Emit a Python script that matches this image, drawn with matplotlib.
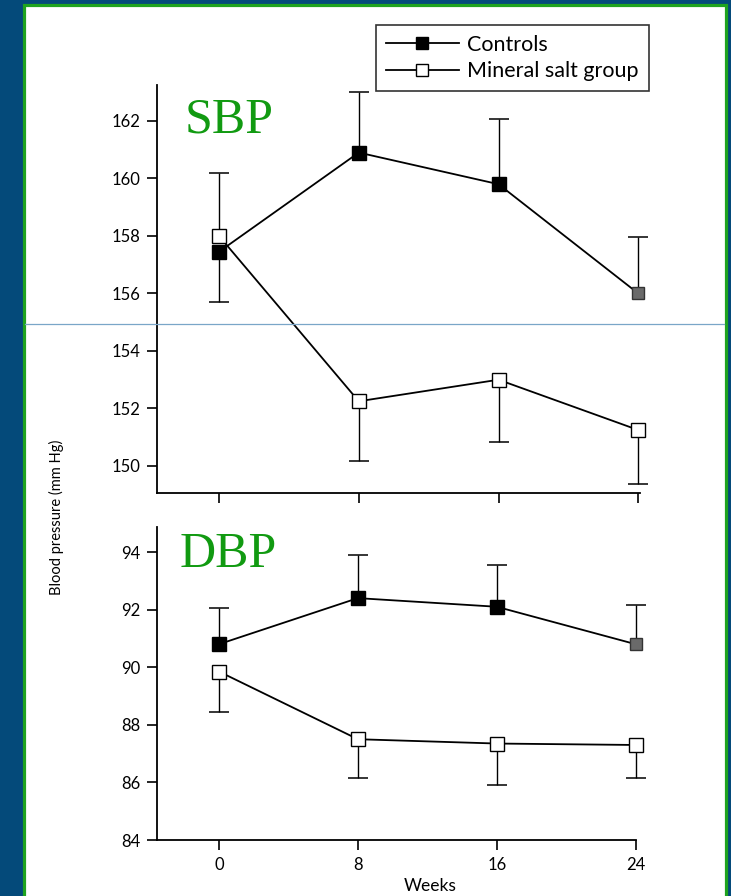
import matplotlib
matplotlib.use("Agg")
import matplotlib.pyplot as plt
from matplotlib.patches import Rectangle
from matplotlib.lines import Line2D
import numpy as np

# ── DATA ─────────────────────────────────────────────────────────────────────
weeks = [0, 8, 16, 24]

sbp_ctrl = [157.45, 160.9, 159.8, 156.0]
sbp_ctrl_lo = [1.75, 0, 0, 0]
sbp_ctrl_hi = [0, 2.12, 2.27, 1.97]
sbp_min = [158.0, 152.25, 153.0, 151.25]
sbp_min_lo = [0, 2.08, 2.15, 1.88]
sbp_min_hi = [2.2, 0, 0, 0]

dbp_ctrl = [90.8, 92.4, 92.1, 90.8]
dbp_ctrl_lo = [0, 0, 0, 0]
dbp_ctrl_hi = [1.25, 1.5, 1.45, 1.35]
dbp_min = [89.85, 87.5, 87.35, 87.3]
dbp_min_lo = [1.4, 1.35, 1.45, 1.15]
dbp_min_hi = [0, 0, 0, 0]

sbp_ticks = [150, 152, 154, 156, 158, 160, 162]
dbp_ticks = [84, 86, 88, 90, 92, 94]

# ── STYLE ────────────────────────────────────────────────────────────────────
W, H = 731, 896
BG = "#044a7a"
GREEN_EDGE = "#1fa31f"
GREEN_TXT = "#119a11"
plt.rcParams["font.family"] = ["Lato", "DejaVu Sans"]


def px_axes(fig, left, right, top, bottom):
    return fig.add_axes([left / W, 1 - bottom / H, (right - left) / W, (bottom - top) / H])


def draw_errs(ax, x, y, lo, hi):
    """One-sided error bars: only the side with a non-zero error is drawn."""
    x, y, lo, hi = map(np.asarray, (x, y, lo, hi))
    for mask, end in ((hi > 0, y + hi), (lo > 0, y - lo)):
        if mask.any():
            ax.vlines(x[mask], y[mask], end[mask], color="black", lw=1.0,
                      zorder=2, clip_on=False)
            ax.plot(x[mask], end[mask], ls="none", marker="_", ms=15, mew=1.1,
                    color="black", zorder=2, clip_on=False)


def draw_series(ax, y_ctrl, c_lo, c_hi, y_min, m_lo, m_hi):
    draw_errs(ax, weeks, y_ctrl, c_lo, c_hi)
    draw_errs(ax, weeks, y_min, m_lo, m_hi)
    ax.plot(weeks, y_ctrl, color="black", lw=1.3, zorder=3, clip_on=False)
    ax.plot(weeks, y_min, color="black", lw=1.3, zorder=3, clip_on=False)
    ax.plot(weeks[:-1], y_ctrl[:-1], ls="none", marker="s", ms=10,
            mfc="black", mec="black", zorder=4, clip_on=False)
    ax.plot(weeks[-1:], y_ctrl[-1:], ls="none", marker="s", ms=9,
            mfc="#6a6a6a", mec="#333333", zorder=4, clip_on=False)
    ax.plot(weeks, y_min, ls="none", marker="s", ms=10,
            mfc="white", mec="black", mew=1.0, zorder=4, clip_on=False)


def style_axes(ax, yticks):
    for s in ("top", "right"):
        ax.spines[s].set_visible(False)
    for s in ("left", "bottom"):
        ax.spines[s].set_linewidth(1.3)
    ax.set_yticks(yticks)
    ax.set_xticks(weeks)
    ax.tick_params(direction="out", length=7, width=1.2, labelsize=12, pad=5)
    ax.patch.set_alpha(0)


fig = plt.figure(figsize=(W / 100, H / 100), dpi=100)
fig.patch.set_facecolor(BG)

# white panel with green frame
fig.add_artist(Rectangle((23.5 / W, -0.02), (725.5 - 23.5) / W, 1.02 - 5.5 / H,
                         transform=fig.transFigure, facecolor="white",
                         edgecolor=GREEN_EDGE, lw=2.3, zorder=0))
# stray thin blue rule
fig.add_artist(Line2D([25 / W, 724 / W], [1 - 324 / H] * 2, transform=fig.transFigure,
                      color="#7aa6c8", lw=0.9, zorder=10))

# ── SBP ──────────────────────────────────────────────────────────────────────
ax1 = px_axes(fig, 157, 640, 85, 493)
draw_series(ax1, sbp_ctrl, sbp_ctrl_lo, sbp_ctrl_hi, sbp_min, sbp_min_lo, sbp_min_hi)
style_axes(ax1, sbp_ticks)
ax1.set_xlim(-3.55, 24.1)
ax1.set_ylim(149.06, 163.25)
ax1.set_xticklabels([])
ax1.text(0.058, 0.97, "SBP", transform=ax1.transAxes, ha="left", va="top",
         fontsize=36, color=GREEN_TXT, family="Liberation Serif")

# ── DBP ──────────────────────────────────────────────────────────────────────
ax2 = px_axes(fig, 157, 636, 527, 840)
draw_series(ax2, dbp_ctrl, dbp_ctrl_lo, dbp_ctrl_hi, dbp_min, dbp_min_lo, dbp_min_hi)
style_axes(ax2, dbp_ticks)
ax2.set_xlim(-3.57, 24.02)
ax2.set_ylim(84, 94.87)
ax2.text(0.048, 0.985, "DBP", transform=ax2.transAxes, ha="left", va="top",
         fontsize=36, color=GREEN_TXT, family="Liberation Serif")

# ── LABELS / LEGEND ──────────────────────────────────────────────────────────
fig.text(56 / W, 1 - 517 / H, "Blood pressure (mm Hg)", rotation=90,
         ha="center", va="center", fontsize=10.5)
fig.text(430 / W, 1 - 886 / H, "Weeks", ha="center", va="center", fontsize=12.5)

handles = [
    Line2D([], [], color="black", lw=1.3, marker="s", ms=9, mfc="black", mec="black"),
    Line2D([], [], color="black", lw=1.3, marker="s", ms=9, mfc="white", mec="black"),
]
leg = fig.legend(handles, ["Controls", "Mineral salt group"], loc="upper left",
                 bbox_to_anchor=(376 / W, 1 - 25 / H), borderaxespad=0, fontsize=15.5,
                 handlelength=3.4, frameon=True, fancybox=False,
                 borderpad=0.45, labelspacing=0.3, handletextpad=0.4)
leg.get_frame().set_edgecolor("black")
leg.get_frame().set_linewidth(1.2)

fig.savefig("out.png", dpi=100, facecolor=BG)
